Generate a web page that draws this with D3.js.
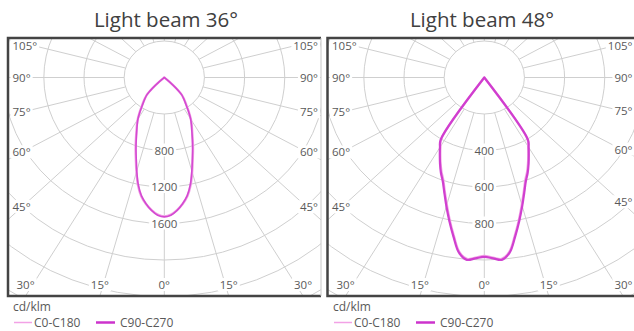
<!DOCTYPE html>
<html><head><meta charset="utf-8">
<script src="https://cdn.jsdelivr.net/npm/d3@7"></script>
<style>
html,body{margin:0;padding:0;background:#fff;}
svg{display:block;font-family:"Open Sans",sans-serif;}
</style></head><body>
<svg id="chart" width="634" height="331"></svg>
<script>
// Luminous intensity (cd/klm) against gamma angle, measured from nadir (0°), in 2.5° steps
const gammaAngles = [0,2.5,5,7.5,10,12.5,15,17.5,20,22.5,25,27.5,30,32.5,35,37.5,40,42.5,45,47.5,50,
                     52.5,55,57.5,60,62.5,65,67.5,70,72.5,75,77.5,80,82.5,85,87.5,90];
const beam36C0  = [1522,1505,1458,1398,1322,1210,1072,942,836,740,658,592,530,462,396,346,302,258,167,71,10,
                   0,0,0,0,0,0,0,0,0,0,0,0,0,0,0,0];
const beam36C90 = [1527,1510,1462,1395,1315,1200,1060,930,825,730,650,585,525,455,390,340,298,255,165,70,10,
                   0,0,0,0,0,0,0,0,0,0,0,0,0,0,0,0];
const beam48C0  = [978,988,998,962,878,798,722,655,598,558,516,475,437,400,0,0,0,0,0,0,0,
                   0,0,0,0,0,0,0,0,0,0,0,0,0,0,0,0];
const beam48C90 = [983,992,1003,968,885,805,730,662,605,565,522,480,442,405,0,0,0,0,0,0,0,
                   0,0,0,0,0,0,0,0,0,0,0,0,0,0,0,0];

const angleTicks = [0,15,30,45,60,75,90,105];
const beam36RingLabels = [800,1200,1600];
const beam48RingLabels = [400,600,800];
const chartTitles = ["Light beam 36°","Light beam 48°"];
const unitLabel = "cd/klm";
const seriesNames = ["C0-C180","C90-C270"];
const seriesColors = ["#f2a2e6","#cc33cc"];

const svg = d3.select("#chart");
const ringPx = 36.5;     // radial distance between rings
const xStretch = 1.1;    // horizontal aspect of the diagram
const textColor = "#595959";

const panels = [
  {title: chartTitles[0], titleX: 166, x0: 8, x1: 321, y0: 38, y1: 296, cx: 164.3, cy: 77.5,
   step: 400, ringLabels: beam36RingLabels, c0: beam36C0, c90: beam36C90, legendX: 13,
   c90Width: 1.6, c90Opacity: 0.8, rightBorder: "#c8c8c8", rightBorderWidth: 1},
  {title: chartTitles[1], titleX: 482, x0: 327.5, x1: 635.5, y0: 38, y1: 296, cx: 484.3, cy: 77.5,
   step: 200, ringLabels: beam48RingLabels, c0: beam48C0, c90: beam48C90, legendX: 333,
   c90Width: 2.2, c90Opacity: 0.9, rightBorder: "#444", rightBorderWidth: 2.5}
];

const rad = d => d * Math.PI / 180;

panels.forEach((p, i) => {
  const r = d3.scaleLinear().domain([0, p.step]).range([0, ringPx]);
  const pt = (g, v, s) => [p.cx + s * xStretch * r(v) * Math.sin(rad(g)), p.cy + r(v) * Math.cos(rad(g))];
  const g = svg.append("g");

  // title
  g.append("text").attr("x", p.titleX).attr("y", 27).attr("text-anchor", "middle")
    .attr("font-size", 20.5).attr("fill", "#404040").text(p.title);

  const clipId = "clip" + i;
  svg.append("clipPath").attr("id", clipId).append("rect")
    .attr("x", p.x0).attr("y", p.y0).attr("width", p.x1 - p.x0).attr("height", p.y1 - p.y0);

  const grid = g.append("g").attr("clip-path", `url(#${clipId})`)
    .attr("fill", "none").attr("stroke", "#cfcfcf").attr("stroke-width", 1);

  // rings every step
  const ringValues = d3.range(1, 9).map(k => k * p.step);
  grid.selectAll("ellipse").data(ringValues).join("ellipse")
    .attr("cx", p.cx).attr("cy", p.cy)
    .attr("rx", v => xStretch * r(v)).attr("ry", v => r(v));

  // radial lines every 15°, starting at the first ring
  const spokes = d3.range(0, 360, 15);
  grid.selectAll("line").data(spokes).join("line")
    .attr("x1", a => pt(a, p.step, 1)[0]).attr("y1", a => pt(a, p.step, 1)[1])
    .attr("x2", a => pt(a, p.step * 12, 1)[0]).attr("y2", a => pt(a, p.step * 12, 1)[1]);

  // labels sit on a white box that hides the grid beneath them
  const labelLayer = g.append("g").attr("font-size", 11.5).attr("fill", textColor);
  const addLabel = (x, y, txt, anchor, place) => {
    const lgp = labelLayer.append("g");
    const t = lgp.append("text").attr("x", x).attr("y", y).attr("dy", "0.35em")
      .attr("text-anchor", anchor).text(txt);
    if (place) t.attr("x", place(t.node().getComputedTextLength()));
    const b = t.node().getBBox();
    lgp.insert("rect", "text").attr("x", b.x - 2).attr("y", b.y + 1)
      .attr("width", b.width + 4).attr("height", b.height - 2).attr("fill", "#fff");
  };
  p.ringLabels.forEach(v => addLabel(p.cx, p.cy + r(v), String(v), "middle"));

  // angle labels where the spokes reach the frame
  const xl = p.x0 + 14, xr = p.x1 - 14, yb = p.y1;
  angleTicks.forEach(a => {
    [-1, 1].forEach(s => {
      if (a === 0 && s === 1) return;
      const dx = s * xStretch * Math.sin(rad(a)), dy = Math.cos(rad(a));
      const tx = dx < 0 ? (xl - p.cx) / dx : (dx > 0 ? (xr - p.cx) / dx : Infinity);
      const ty = dy > 1e-9 ? (yb - p.cy) / dy : Infinity;
      const txt = a + "°";
      if (ty < tx) {
        const x = p.cx + ty * dx;
        addLabel(x, p.y1 - 11, txt, "middle",
          w => Math.max(p.x0 + 4 + w / 2, Math.min(p.x1 - 3 - w / 2, x)));
      } else {
        const y = Math.max(p.y0 + 8, Math.min(p.y1 - 11, p.cy + tx * dy));
        if (s < 0) addLabel(p.x0 + 4.5, y, txt, "start");
        else addLabel(p.x1 - 3, y, txt, "end");
      }
    });
  });

  // frame
  g.append("path")
    .attr("d", `M${p.x1},${p.y0}H${p.x0}V${p.y1}H${p.x1}`)
    .attr("fill", "none").attr("stroke", "#444").attr("stroke-width", 2.5);
  g.append("line").attr("x1", p.x1).attr("x2", p.x1).attr("y1", p.y0).attr("y2", p.y1)
    .attr("stroke", p.rightBorder).attr("stroke-width", p.rightBorderWidth);

  // distribution curves, mirrored about the nadir
  const curvePoints = vals => {
    const right = gammaAngles.map((a, k) => pt(a, vals[k], 1));
    const left = gammaAngles.map((a, k) => pt(a, vals[k], -1)).reverse();
    return right.concat(left.slice(1, -1));
  };
  const line = d3.line().curve(d3.curveCatmullRomClosed.alpha(0.5));
  const curves = g.append("g").attr("clip-path", `url(#${clipId})`).attr("fill", "none")
    .attr("stroke-linejoin", "round");
  curves.append("path").attr("d", line(curvePoints(p.c0)))
    .attr("stroke", seriesColors[0]).attr("stroke-width", 2.4);
  curves.append("path").attr("d", line(curvePoints(p.c90)))
    .attr("stroke", seriesColors[1]).attr("stroke-width", p.c90Width).attr("stroke-opacity", p.c90Opacity);

  // legend
  const lg = g.append("g").attr("font-size", 12).attr("fill", textColor);
  lg.append("text").attr("x", p.legendX).attr("y", 311).text(unitLabel);
  lg.append("line").attr("x1", p.legendX + 1).attr("x2", p.legendX + 19).attr("y1", 322.5).attr("y2", 322.5)
    .attr("stroke", seriesColors[0]).attr("stroke-width", 1.5);
  lg.append("text").attr("x", p.legendX + 21).attr("y", 326.5).text(seriesNames[0]);
  lg.append("line").attr("x1", p.legendX + 83).attr("x2", p.legendX + 102).attr("y1", 322.5).attr("y2", 322.5)
    .attr("stroke", seriesColors[1]).attr("stroke-width", 2.5);
  lg.append("text").attr("x", p.legendX + 107).attr("y", 326.5).text(seriesNames[1]);
});
</script>
</body></html>
